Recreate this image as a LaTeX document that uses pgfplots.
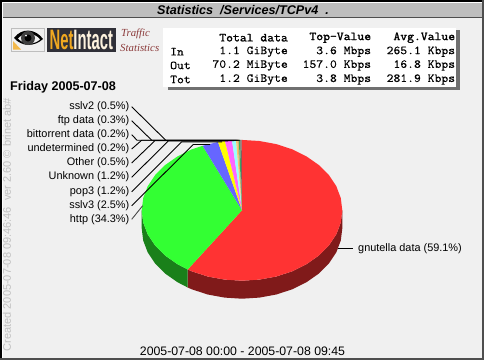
\documentclass[border=0pt]{standalone}
\usepackage{pgfplots}
\pgfplotsset{compat=1.18}
\usepackage{fontspec}
\setmainfont{Liberation Sans}
\newfontfamily\serifit{Liberation Serif}
\newfontfamily\tfont[FakeBold=0.2]{Latin Modern Mono}
\newfontfamily\hfont[FakeBold=1.6]{Latin Modern Mono}
\definecolor{bg}{HTML}{F0F0F0}
\definecolor{bar}{HTML}{BEBEBE}
\definecolor{ared}{HTML}{FF3333}
\definecolor{dred}{HTML}{801A1A}
\definecolor{agreen}{HTML}{33FF33}
\definecolor{dgreen}{HTML}{1A801A}
\definecolor{ablue}{HTML}{6666FF}
\definecolor{ayel}{HTML}{FFFF00}
\definecolor{amag}{HTML}{FF66FF}
\definecolor{acyan}{HTML}{99FFFF}
\definecolor{aora}{HTML}{FFCC66}
\definecolor{atan}{HTML}{E0B070}
\definecolor{agrn2}{HTML}{33B060}
\definecolor{apur}{HTML}{806060}
\definecolor{traf}{HTML}{8B3A3A}
\definecolor{vert}{HTML}{C0C0C0}
\definecolor{shad}{HTML}{707070}
\definecolor{logo}{HTML}{303038}
\definecolor{logoo}{HTML}{F0A820}
\newcommand{\lab}{\fontsize{10.9}{12}\selectfont}
\newcommand{\tbl}{\fontsize{12.2}{13}\selectfont\tfont}
\newcommand{\tbh}{\fontsize{12.2}{13}\selectfont\hfont}
\begin{document}
\begin{tikzpicture}
\begin{axis}[
  scale only axis, width=484pt, height=360pt,
  xmin=0, xmax=484, ymin=0, ymax=360, y dir=reverse,
  hide axis, clip=false, no markers,
]
% frame and title bar
\fill[bg] (axis cs:0,0) rectangle (axis cs:484,360);
\fill[black] (axis cs:0,0) rectangle (axis cs:484,1.5);
\fill[black] (axis cs:0,0) rectangle (axis cs:1.5,360);
\fill[white] (axis cs:1.5,1.5) rectangle (axis cs:484,2.5);
\fill[white] (axis cs:1.5,1.5) rectangle (axis cs:2.5,358);
\fill[bar] (axis cs:2.5,2.5) rectangle (axis cs:482,17);
\fill[shad!70!black] (axis cs:2.5,17) rectangle (axis cs:482,18.3);
\fill[shad!70!black] (axis cs:0,357.5) rectangle (axis cs:484,360);
\fill[shad!70!black] (axis cs:481.5,0) rectangle (axis cs:484,360);
\node[anchor=center,font=\fontsize{12.6}{14}\selectfont\bfseries\itshape] at (axis cs:243,9.8) {Statistics\ \ /Services/TCPv4\ \ .};
% logo
\fill[bar] (axis cs:11,28) rectangle (axis cs:45,52);
\fill[bg] (axis cs:12,29) rectangle (axis cs:44,51);
\fill[black] (axis cs:14,38) .. controls (axis cs:22,27) and (axis cs:36,29) .. (axis cs:43,39) .. controls (axis cs:34,47) and (axis cs:22,47) .. (axis cs:14,38) -- cycle;
\fill[bg] (axis cs:18,38.5) .. controls (axis cs:24,32) and (axis cs:34,32) .. (axis cs:40,39.5) .. controls (axis cs:34,45) and (axis cs:24,45) .. (axis cs:18,38.5) -- cycle;
\fill[black!75] (axis cs:28,38) ellipse [x radius=7, y radius=7];
\fill[black] (axis cs:28,38) ellipse [x radius=3.5, y radius=3.5];
\fill[white] (axis cs:26,35.5) ellipse [x radius=1, y radius=1];
\fill[logoo!80] (axis cs:13,49.5) -- (axis cs:13,41) -- (axis cs:21,49.5) -- cycle;
\fill[logo] (axis cs:47,28) rectangle (axis cs:115.5,52);
\node[anchor=center,inner sep=0pt] at (axis cs:81.3,40) {\scalebox{1.0}[1.9]{\fontsize{14.8}{15}\selectfont\bfseries\textcolor{logoo}{Net}\textcolor{white!85!logoo}{Intact}}};
\node[anchor=west,text=traf,font=\fontsize{10.8}{11}\selectfont\serifit\itshape,inner sep=0pt] at (axis cs:121,34) {Traffic};
\node[anchor=west,text=traf,font=\fontsize{10.8}{11}\selectfont\serifit\itshape,inner sep=0pt] at (axis cs:120,47.5) {Statistics};
% table box
\fill[shad] (axis cs:168,30) rectangle (axis cs:460,89.5);
\fill[white] (axis cs:163,28) rectangle (axis cs:456,86.5);
\node[anchor=east,inner sep=0pt,font=\tbh] at (axis cs:288,37.7) {\scalebox{1.09}[1]{Total data}};
\node[anchor=east,inner sep=0pt,font=\tbh] at (axis cs:371.3,37.7) {\scalebox{1.09}[1]{Top-Value}};
\node[anchor=east,inner sep=0pt,font=\tbh] at (axis cs:455.3,37.7) {\scalebox{1.09}[1]{Avg.Value}};
\node[anchor=west,inner sep=0pt,font=\tbl] at (axis cs:170,51.7) {\scalebox{1.09}[1]{In}};
\node[anchor=west,inner sep=0pt,font=\tbl] at (axis cs:170,65.4) {\scalebox{1.09}[1]{Out}};
\node[anchor=west,inner sep=0pt,font=\tbl] at (axis cs:170,79.5) {\scalebox{1.09}[1]{Tot}};
\node[anchor=east,inner sep=0pt,font=\tbl] at (axis cs:288,51.7) {\scalebox{1.09}[1]{1.1 GiByte}};
\node[anchor=east,inner sep=0pt,font=\tbl] at (axis cs:288,65.4) {\scalebox{1.09}[1]{70.2 MiByte}};
\node[anchor=east,inner sep=0pt,font=\tbl] at (axis cs:288,79.5) {\scalebox{1.09}[1]{1.2 GiByte}};
\node[anchor=east,inner sep=0pt,font=\tbl] at (axis cs:371.3,51.7) {\scalebox{1.09}[1]{3.6 Mbps}};
\node[anchor=east,inner sep=0pt,font=\tbl] at (axis cs:371.3,65.4) {\scalebox{1.09}[1]{157.0 Kbps}};
\node[anchor=east,inner sep=0pt,font=\tbl] at (axis cs:371.3,79.5) {\scalebox{1.09}[1]{3.8 Mbps}};
\node[anchor=east,inner sep=0pt,font=\tbl] at (axis cs:455.3,51.7) {\scalebox{1.09}[1]{265.1 Kbps}};
\node[anchor=east,inner sep=0pt,font=\tbl] at (axis cs:455.3,65.4) {\scalebox{1.09}[1]{16.8 Kbps}};
\node[anchor=east,inner sep=0pt,font=\tbl] at (axis cs:455.3,79.5) {\scalebox{1.09}[1]{281.9 Kbps}};
% side text
\node[anchor=west,inner sep=0pt,rotate=90,text=vert,font=\fontsize{11}{12}\selectfont] at (axis cs:7,351.5) {Created 2005-07-08 09:46:46\ \ ver 2.60 © brinet ab\#};
\node[anchor=west,inner sep=0pt,font=\fontsize{12.6}{13}\selectfont\bfseries] at (axis cs:10,87) {Friday 2005-07-08};
\node[anchor=center,inner sep=0pt,font=\fontsize{12.3}{14}\selectfont] at (axis cs:242.5,351.7) {2005-07-08 00:00 - 2005-07-08 09:45};
% pie walls
\addplot[fill=dred,draw=none] coordinates {(342.3,210.3)(340.8,222.5)(336.3,234.4)(328.9,245.5)(318.8,255.6)(306.5,264.2)(292.2,271.3)(276.3,276.5)(259.4,279.6)(242,280.7)(224.6,279.6)(207.7,276.5)(191.8,271.3)(187.7,269.5)(187.7,287.5)(191.8,289.3)(207.7,294.5)(224.6,297.6)(242,298.7)(259.4,297.6)(276.3,294.5)(292.2,289.3)(306.5,282.2)(318.8,273.6)(328.9,263.5)(336.3,252.4)(340.8,240.5)(342.3,228.3)(342.3,210.3)};
\addplot[fill=dgreen,draw=none] coordinates {(187.7,269.5)(177.5,264.2)(165.2,255.6)(155.1,245.5)(147.7,234.4)(143.2,222.5)(141.7,210.3)(141.7,228.3)(143.2,240.5)(147.7,252.4)(155.1,263.5)(165.2,273.6)(177.5,282.2)(187.7,287.5)(187.7,269.5)};
% pie top: gnutella data 59.1
\addplot[fill=ared,draw=none] coordinates {(242,210.3)(241.7,139.9)(259.4,141.0)(276.3,144.1)(292.2,149.3)(306.5,156.4)(318.8,165.0)(328.9,175.1)(336.3,186.2)(340.8,198.1)(342.3,210.3)(340.8,222.5)(336.3,234.4)(328.9,245.5)(318.8,255.6)(306.5,264.2)(292.2,271.3)(276.3,276.5)(259.4,279.6)(242,280.7)(224.6,279.6)(207.7,276.5)(191.8,271.3)(187.7,269.5)(242,210.3)};
% http 34.3
\addplot[fill=agreen,draw=none] coordinates {(242,210.3)(187.7,269.5)(177.5,264.2)(165.2,255.6)(155.1,245.5)(147.7,234.4)(143.2,222.5)(141.7,210.3)(143.2,198.1)(147.7,186.2)(155.1,175.1)(165.2,165.0)(177.5,156.4)(191.8,149.3)(202.6,145.8)(242,210.3)};
% sslv3 2.5
\addplot[fill=ablue,draw=none] coordinates {(242,210.3)(202.6,145.8)(218,142.0)(242,210.3)};
% pop3 1.2
\addplot[fill=ayel,draw=none] coordinates {(242,210.3)(218,142.0)(225,141.0)(242,210.3)};
% Unknown 1.2
\addplot[fill=amag,draw=none] coordinates {(242,210.3)(225,141.0)(232,140.3)(242,210.3)};
% Other 0.5
\addplot[fill=acyan,draw=none] coordinates {(242,210.3)(232,140.3)(236,140.0)(242,210.3)};
% undetermined 0.2
\addplot[fill=aora,draw=none] coordinates {(242,210.3)(236,140.0)(237.3,140.0)(242,210.3)};
% bittorrent data 0.2
\addplot[fill=atan,draw=none] coordinates {(242,210.3)(237.3,140.0)(238.8,139.9)(242,210.3)};
% ftp data 0.3
\addplot[fill=agrn2,draw=none] coordinates {(242,210.3)(238.8,139.9)(240.3,139.9)(242,210.3)};
% sslv2 0.5
\addplot[fill=apur,draw=none] coordinates {(242,210.3)(240.3,139.9)(241.7,139.9)(242,210.3)};
% leaders
\addplot[black,line width=0.9pt] coordinates {(131.7,106.7)(165.7,140.2)(240,140.2)};
\addplot[black,line width=0.9pt] coordinates {(131.7,120.7)(151.7,140.2)(239,140.2)};
\addplot[black,line width=0.9pt] coordinates {(131.7,134.7)(137,140.2)(238,140.2)};
\addplot[black,line width=0.9pt] coordinates {(131.7,149)(141.7,140.2)(236.5,140.2)};
\addplot[black,line width=0.9pt] coordinates {(131.7,163)(155,140.6)(234,140.6)};
\addplot[black,line width=0.9pt] coordinates {(131.7,177.3)(168.3,141)(228,141)};
\addplot[black,line width=0.9pt] coordinates {(131.7,191.7)(181.7,141.8)(222,141.8)};
\addplot[black,line width=0.9pt] coordinates {(131.7,205.7)(193.3,144.5)(210,144.5)};
\addplot[black!70,line width=0.9pt] coordinates {(131.7,219.3)(142.7,205.7)};
\addplot[black,line width=0.9pt] coordinates {(338,248.6)(352.7,248.6)};
% labels
\node[anchor=east,inner sep=0pt,font=\lab] at (axis cs:129.5,107) {sslv2 (0.5\%)};
\node[anchor=east,inner sep=0pt,font=\lab] at (axis cs:129.5,121) {ftp data (0.3\%)};
\node[anchor=east,inner sep=0pt,font=\lab] at (axis cs:129.5,135) {bittorrent data (0.2\%)};
\node[anchor=east,inner sep=0pt,font=\lab] at (axis cs:129.5,149) {undetermined (0.2\%)};
\node[anchor=east,inner sep=0pt,font=\lab] at (axis cs:129.5,163) {Other (0.5\%)};
\node[anchor=east,inner sep=0pt,font=\lab] at (axis cs:129.5,177) {Unknown (1.2\%)};
\node[anchor=east,inner sep=0pt,font=\lab] at (axis cs:129.5,191.5) {pop3 (1.2\%)};
\node[anchor=east,inner sep=0pt,font=\lab] at (axis cs:129.5,205.5) {sslv3 (2.5\%)};
\node[anchor=east,inner sep=0pt,font=\lab] at (axis cs:129.5,219.5) {http (34.3\%)};
\node[anchor=west,inner sep=0pt,font=\lab] at (axis cs:358,248.5) {gnutella data (59.1\%)};
\end{axis}
\end{tikzpicture}
\end{document}
